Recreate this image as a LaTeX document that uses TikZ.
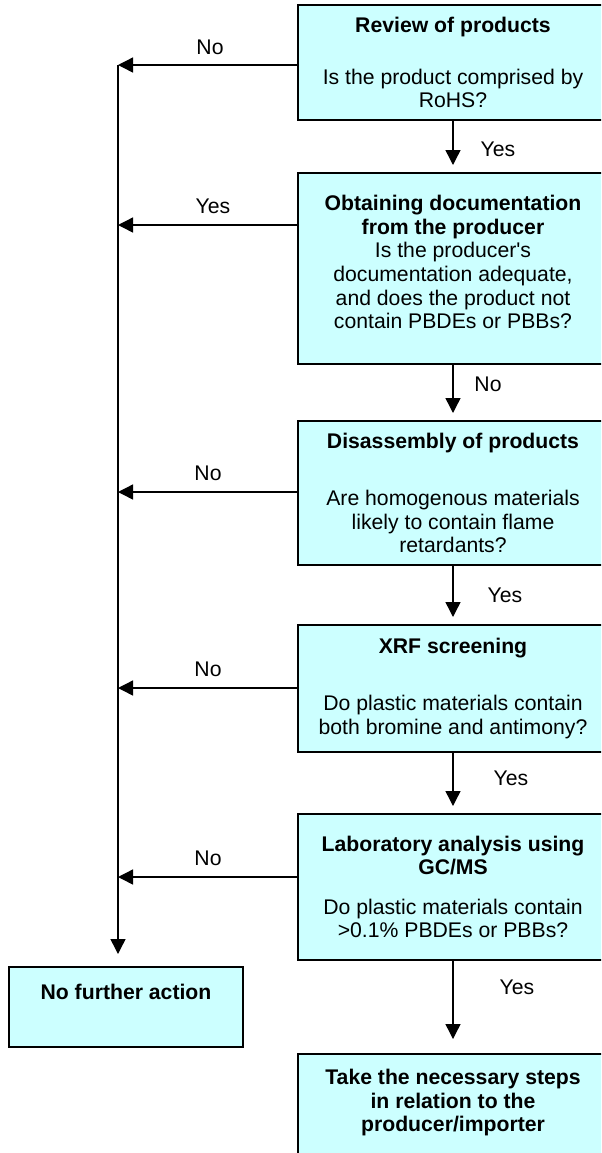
\documentclass[tikz,border=0pt]{standalone}
\usepackage{fontspec}
\setmainfont{Liberation Sans}
\usepackage{tikz}
\usetikzlibrary{arrows.meta}
\definecolor{boxcyan}{HTML}{CCFFFF}

\begin{document}
\begin{tikzpicture}[x=0.5pt,y=-0.5pt,
  stepbox/.style={draw=black,line width=1pt,fill=boxcyan,align=center,
    font=\fontsize{10.6}{11.8}\selectfont,minimum width=155pt,inner sep=4pt},
  arr/.style={line width=0.7pt,-{Triangle[length=7.5pt,width=7.5pt]}},
  lbl/.style={font=\fontsize{10.6}{11.8}\selectfont}]
\useasboundingbox (0,0) rectangle (601,1153);
\clip (0,0) rectangle (601,1153);
\node[stepbox,minimum height=57.5pt] (review) at (453,62.5)
  {\textbf{Review of products}\\[14pt]Is the product comprised by\\RoHS?};
\node[stepbox,anchor=north,text height=73.8pt,text depth=13.7pt] (docs) at (453,172)
  {\textbf{Obtaining documentation}\\\textbf{from the producer}\\Is the producer\textquotesingle s\\documentation adequate,\\and does the product not\\contain PBDEs or PBBs?};
\node[stepbox,minimum height=72pt] (disasm) at (453,493)
  {\textbf{Disassembly of products}\\[17pt]Are homogenous materials\\likely to contain flame\\retardants?};
\node[stepbox,minimum height=63.5pt] (xrf) at (453,688.5)
  {\textbf{XRF screening}\\[17pt]Do plastic materials contain\\both bromine and antimony?};
\node[stepbox,minimum height=73pt] (lab) at (453,887)
  {\textbf{Laboratory analysis using}\\\textbf{GC/MS}\\[8pt]Do plastic materials contain\\>0.1\% PBDEs or PBBs?};
\node[stepbox,anchor=north,text height=34.8pt,text depth=40pt] (steps) at (453,1053)
  {\textbf{Take the necessary steps}\\\textbf{in relation to the}\\\textbf{producer/importer}};
\node[stepbox,minimum width=117pt,minimum height=40pt,text depth=15pt] (noaction) at (126,1007)
  {\textbf{No further action}};

\coordinate (t1) at (118,65);
\coordinate (t2) at (118,225);
\coordinate (t3) at (118,492);
\coordinate (t4) at (118,688);
\coordinate (t5) at (118,877);
\draw[arr,shorten >=6pt] (t1) -- (t1 |- noaction.north);
\foreach \b/\t in {review/t1,docs/t2,disasm/t3,xrf/t4,lab/t5}
{
\draw[arr] (\b.west |- \t) -- (\t);
}
\foreach \a/\b in {review/docs,docs/disasm,disasm/xrf,xrf/lab}
{
\draw[arr,shorten >=3.5pt] (\a.south) -- (\b.north);
}
\draw[arr,shorten >=7pt] (lab.south) -- (steps.north);

\node[lbl] (n1) at (210,47) {No};
\node[lbl] (y2) at (213,206) {Yes};
\node[lbl] (n3) at (208,473) {No};
\node[lbl] (n4) at (208,669) {No};
\node[lbl] (n5) at (208,858) {No};
\node[lbl] (y12) at (498,149) {Yes};
\node[lbl] (n23) at (488,384) {No};
\node[lbl] (y34) at (505,595) {Yes};
\node[lbl] (y45) at (511,778) {Yes};
\node[lbl] (y56) at (517,987) {Yes};
\end{tikzpicture}
\end{document}
